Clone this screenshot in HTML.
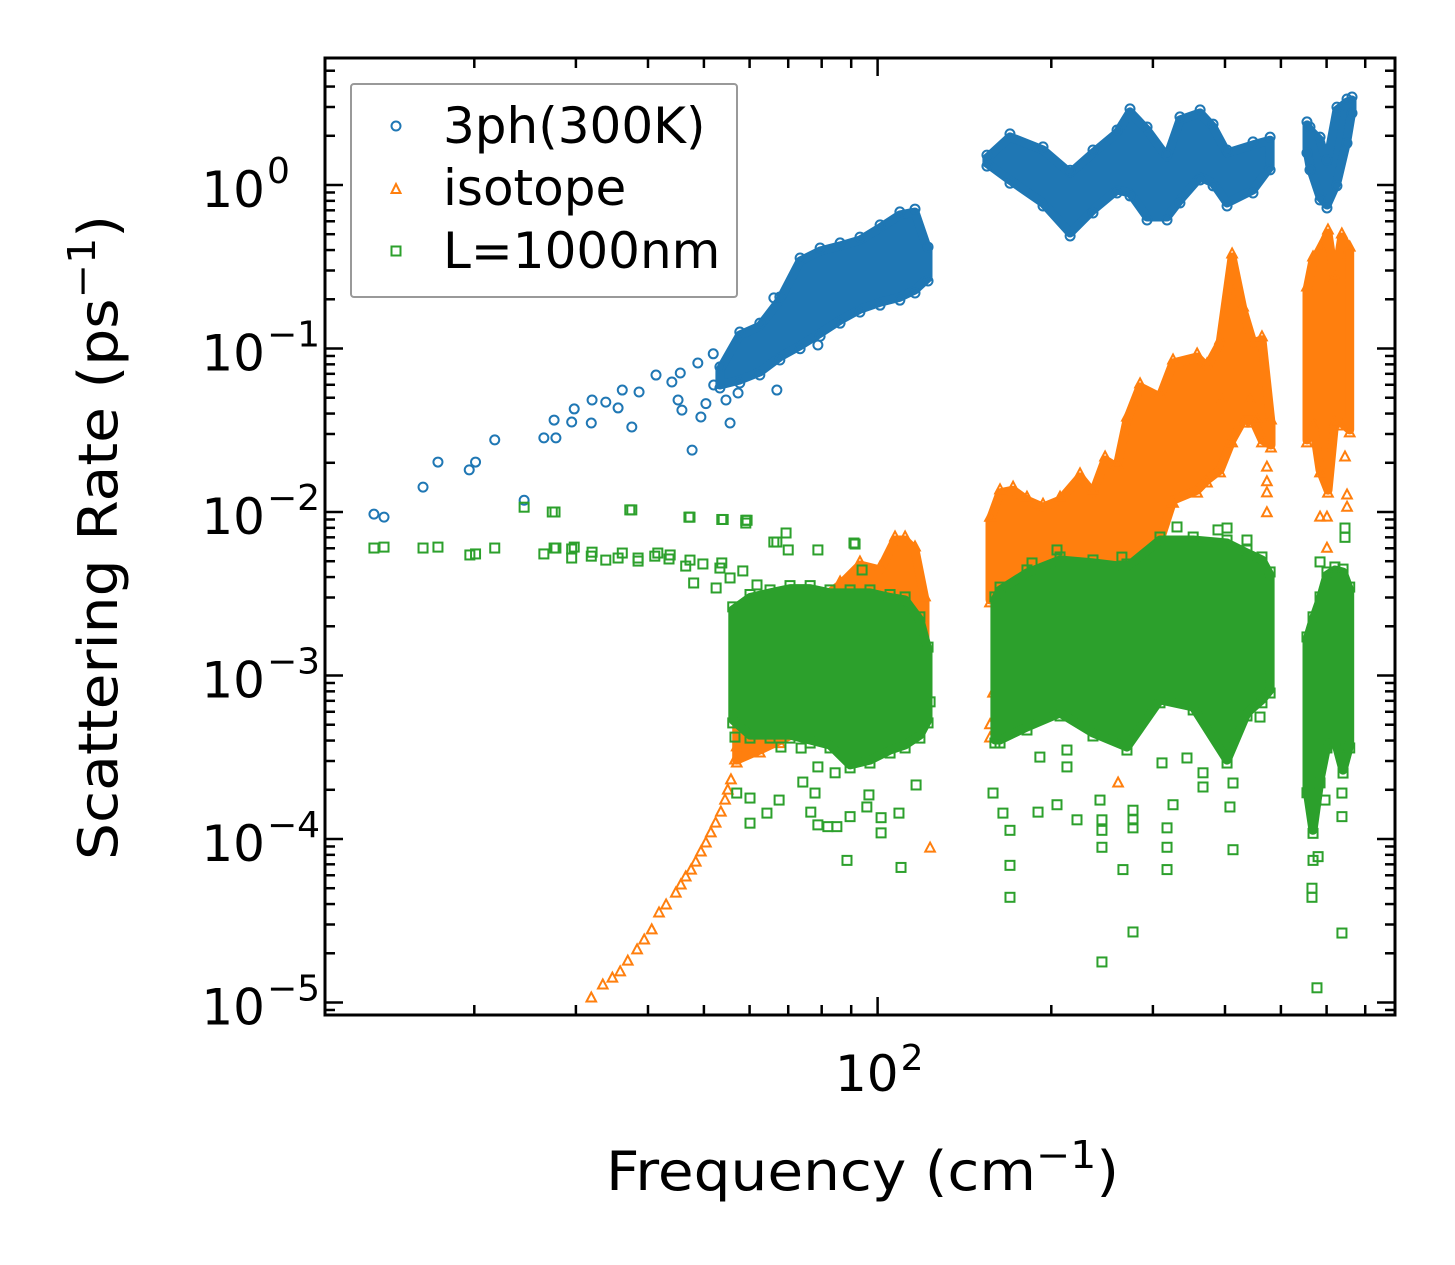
<!DOCTYPE html>
<html><head><meta charset="utf-8"><style>
html,body{margin:0;padding:0;background:#fff;}
svg{display:block;font-family:"DejaVu Sans","Liberation Sans",sans-serif;}
</style></head><body>
<svg id="chart" width="1455" height="1265" viewBox="0 0 1455 1265" xmlns="http://www.w3.org/2000/svg">
<rect x="0" y="0" width="1455" height="1265" fill="#fff"/>
<g id="plot"></g>
<g id="axes"></g>
<g>
  <rect x="351" y="84" width="386" height="213" fill="#fff" fill-opacity="0.8" stroke="#999" stroke-width="2" rx="3"/>
  <circle cx="396" cy="126" r="4.5" fill="none" stroke="#1f77b4" stroke-width="2"/>
  <text x="443" y="143" font-size="50">3ph(300K)</text>
  <polygon points="396,184 391.5,193 400.5,193" fill="none" stroke="#ff7f0e" stroke-width="2"/>
  <text x="443" y="205" font-size="50">isotope</text>
  <rect x="391.5" y="246.5" width="9" height="9" fill="none" stroke="#2ca02c" stroke-width="2"/>
  <text x="443" y="268" font-size="50">L=1000nm</text>
</g>
<text x="606" y="1190" font-size="54" textLength="513" lengthAdjust="spacingAndGlyphs">Frequency (cm<tspan font-size="38" dy="-22">−1</tspan><tspan dy="22">)</tspan></text>
<text transform="translate(117,860) rotate(-90)" font-size="54" textLength="645" lengthAdjust="spacingAndGlyphs">Scattering Rate (ps<tspan font-size="38" dy="-22">−1</tspan><tspan dy="22">)</tspan></text>
</svg>
<script>
// ---------- data (frequency cm^-1, rate ps^-1) ----------
const blueBandF = [[53.3,57.7,62.5,67.7,73.4,79.5,86.1,93.2,101,109.3,116.1,122.3],
  [154.7,169.6,193.5,215.6,236.2,260,273.8,293.1,317.4,334.2,362.2,381.4,403.3,447.3,478.9],
  [554.8,561.5,584.5,600.9,625.3,651,664.1]];
const blueBandHi = [[0.074,0.121,0.137,0.198,0.343,0.395,0.424,0.46,0.547,0.656,0.683,0.40],
  [1.46,1.97,1.64,1.18,1.57,2.08,2.80,2.17,1.48,2.50,2.76,2.26,1.57,1.76,1.88],
  [2.33,2.17,1.88,1.36,2.87,3.22,3.31]];
const blueBandLo = [[0.0598,0.0642,0.0718,0.0887,0.104,0.124,0.149,0.174,0.192,0.206,0.228,0.270],
  [1.36,1.07,0.776,0.509,0.703,0.932,0.894,0.637,0.637,0.81,1.12,1.03,0.776,0.932,1.29],
  [1.64,1.29,0.845,0.755,1.03,1.88,2.87]];
const bluePtF = [13.4,13.95,16.3,17.3,19.6,20.1,21.7,24.4,26.4,27.7,27.5,29.5,29.8,32.0,31.9,33.8,35.5,36.1,38.6,37.5,41.3,45.5,44.0,47.7,48.8,51.9,49.4,55.5,57.3,66.9,66.1,78.8,45.1,50.4,54.6,45.8,52.0];
const bluePtY = [0.0097,0.0093,0.0142,0.0202,0.0181,0.0202,0.0276,0.0118,0.0284,0.0284,0.0365,0.0355,0.0427,0.0484,0.035,0.047,0.0433,0.0557,0.0542,0.0331,0.0688,0.0708,0.0624,0.0239,0.0815,0.0928,0.0381,0.035,0.0534,0.0557,0.204,0.105,0.0484,0.046,0.0484,0.042,0.0598];

const orangeBandF = [[57.0,62.5,67.7,73.4,79.5,86.1,93.2,101,107.2,111.6,116.1,120.8],
  [156.6,163,171.7,181.5,193.5,207.1,224.3,236.2,247.9,260,270.5,285,308.6,325.1,357.9,372.3,392.2,411.5,429.9,447.3,463.6,480.6],
  [554.8,568.4,584.5,603.3,620.2,637.6,658.0]];
const orangeBandHi = [[7.1e-4,8.2e-4,1.24e-3,1.65e-3,2.9e-3,3.58e-3,4.74e-3,4.42e-3,6.74e-3,6.74e-3,5.86e-3,2.9e-3],
  [8.9e-3,1.31e-2,1.36e-2,1.18e-2,1.07e-2,1.18e-2,1.64e-2,1.31e-2,2.08e-2,1.88e-2,3.65e-2,5.82e-2,5.05e-2,8.15e-2,8.87e-2,7.7e-2,0.108,0.363,0.172,0.108,0.113,3.5e-2],
  [0.228,0.348,0.40,0.509,0.262,0.481,0.40]];
const orangeBandLo = [[3.04e-4,3.5e-4,4.0e-4,4.6e-4,5.3e-4,5.3e-4,5.3e-4,5.3e-4,6.2e-4,5.7e-4,5.7e-4,6.2e-4],
  [2.9e-3,3.3e-3,3.84e-3,3.84e-3,3.84e-3,3.84e-3,3.84e-3,3.84e-3,3.84e-3,3.84e-3,3.84e-3,3.84e-3,6.7e-3,1.18e-2,1.36e-2,1.57e-2,1.81e-2,2.76e-2,3.65e-2,3.65e-2,2.76e-2,2.57e-2],
  [2.76e-2,3.5e-2,1.81e-2,1.36e-2,3.65e-2,3.5e-2,3.18e-2]];
const orangePtF = [31.9,33.4,34.7,35.8,36.9,38.3,39.4,40.6,41.8,43.0,44.7,45.6,46.5,47.5,48.4,49.4,50.4,51.4,52.4,53.5,54.4,55.0,55.7,56.6,57.0,123.3,472.8,472.8,472.8,472.8,261.1,156.6,156.6,158.5,584.5,600.9,600.9,651,651,395.4,442,454.6,645.7];
const orangePtY = [1.065e-5,1.28e-5,1.41e-5,1.54e-5,1.79e-5,2.1e-5,2.41e-5,2.78e-5,3.53e-5,3.95e-5,4.67e-5,5.23e-5,5.86e-5,6.45e-5,7.22e-5,8.32e-5,9.45e-5,1.09e-4,1.25e-4,1.46e-4,1.73e-4,1.99e-4,2.3e-4,3.04e-4,3.66e-4,8.8e-5,1.53e-2,1.31e-2,9.9e-3,1.88e-2,2.2e-4,5.0e-4,4.15e-4,7.8e-4,9.3e-3,9.3e-3,6.0e-3,1.27e-2,1.07e-2,4.84e-2,4.84e-2,3.65e-2,2.17e-2];

const greenBandF = [[56.1,60.1,65.1,70.5,76.4,82.7,89.6,97.0,105.1,111.6,118.4,122.3],
  [159.7,163,181.5,207.1,236.2,270.5,308.6,352.3,403.3,436.7,463.6,478.9],
  [554.8,568.4,584.5,600.9,620.2,640.7,658]];
const greenBandHi = [[2.52e-3,3.0e-3,3.2e-3,3.4e-3,3.4e-3,3.2e-3,3.2e-3,3.2e-3,3.0e-3,2.9e-3,2.19e-3,1.43e-3],
  [2.9e-3,3.33e-3,4.24e-3,5.09e-3,4.88e-3,4.61e-3,6.74e-3,6.74e-3,6.46e-3,5.61e-3,5.09e-3,4.12e-3],
  [1.65e-3,2.19e-3,2.9e-3,4.12e-3,4.42e-3,4.29e-3,3.33e-3]];
const greenBandLo = [[5.35e-4,4.32e-4,4.32e-4,4.32e-4,4.03e-4,3.76e-4,2.84e-4,3.04e-4,3.5e-4,3.76e-4,4.32e-4,5.35e-4],
  [4.03e-4,4.03e-4,4.84e-4,5.9e-4,4.45e-4,3.65e-4,7.1e-4,6.42e-4,3.04e-4,5.9e-4,7.1e-4,8.15e-4],
  [2.0e-4,1.13e-4,2.3e-4,3.76e-4,4.03e-4,2.64e-4,3.76e-4]];
const greenPtF = [13.4,13.95,16.3,17.3,19.65,20.1,21.7,24.4,26.4,27.6,27.7,29.5,29.8,32.0,33.8,36.1,37.5,38.45,41.6,43.7,47.3,47.3,53.7,59.1,59.1,53.7,66.1,69.4,70.0,78.8,91.0,94.0,
  27.3,37.2,47.1,54.0,59.4,66.9,91.4,27.5,29.5,31.9,35.5,38.45,41.1,43.5,46.5,49.8,53.3,55.5,52.5,48.0,58.4,61.8,
  56.6,60.1,57.0,64.3,67.5,60.1,68.0,73.7,74.2,77.9,76.6,78.8,82.0,85.0,89.6,96.6,95.8,101.4,101.4,108.9,88.5,109.8,116.6,123.3,78.8,84.4,
  158.5,164.9,169.6,169.6,169.6,189.7,204.6,221.6,212.9,242.9,244.8,244.8,244.8,244.8,277.1,277.1,277.1,266.2,277.1,317.4,317.4,317.4,325.1,311.1,343.7,366.4,366.4,413.0,408.0,413.0,460,475.0,191.1,212.9,
  185.2,204.6,265.1,330.3,403.3,436.7,389.0,
  577.4,566.0,566.0,568.4,580,637.9,637.9,596.2,645.7,645.7,584.5,637.9,651];
const greenPtY = [6.02e-3,6.1e-3,6.02e-3,6.1e-3,5.46e-3,5.54e-3,6.02e-3,1.07e-2,5.54e-3,1.0e-2,6.02e-3,5.23e-3,6.1e-3,5.68e-3,5.08e-3,5.61e-3,1.03e-2,5.23e-3,5.61e-3,5.46e-3,9.3e-3,5.08e-3,9.0e-3,8.9e-3,8.56e-3,4.88e-3,6.55e-3,7.44e-3,5.86e-3,5.86e-3,6.46e-3,4.42e-3,
  1.0e-2,1.03e-2,9.3e-3,9.0e-3,8.9e-3,6.55e-3,6.37e-3,6.02e-3,5.94e-3,5.37e-3,5.23e-3,5.01e-3,5.37e-3,5.16e-3,4.67e-3,4.81e-3,4.54e-3,3.95e-3,3.43e-3,3.68e-3,4.36e-3,3.58e-3,
  4.2e-4,1.78e-4,1.91e-4,1.44e-4,1.73e-4,1.25e-4,3.65e-4,3.6e-4,2.23e-4,1.91e-4,1.46e-4,1.22e-4,1.19e-4,1.19e-4,1.37e-4,1.86e-4,1.57e-4,1.35e-4,1.09e-4,1.44e-4,7.4e-5,6.7e-5,2.14e-4,6.9e-4,2.76e-4,2.54e-4,
  1.91e-4,1.44e-4,1.13e-4,6.9e-5,4.4e-5,1.46e-4,1.62e-4,1.31e-4,3.5e-4,1.73e-4,1.31e-4,1.13e-4,8.9e-5,1.77e-5,1.5e-4,1.31e-4,1.17e-4,6.5e-5,2.7e-5,1.17e-4,8.9e-5,6.5e-5,1.62e-4,2.92e-4,3.13e-4,2.54e-4,2.08e-4,2.2e-4,1.57e-4,8.6e-5,5.57e-4,9.8e-4,3.17e-4,2.76e-4,
  4.88e-3,5.86e-3,5.3e-3,8.1e-3,7.98e-3,6.74e-3,7.77e-3,
  1.23e-5,5.0e-5,4.4e-5,7.4e-5,7.8e-5,2.66e-5,1.37e-4,1.73e-4,7.0e-3,7.98e-3,4.95e-3,1.91e-4,3.65e-4];

const yTickExp = [0,-1,-2,-3,-4,-5];
const xTickExp = [2];

// ---------- axis functions ----------
const AX = {left:325, right:1395, top:58, bottom:1015};
function xs(f){ return 877.6 + 577*Math.log10(f/100); }
function ys(r){ return 185 - 163.5*Math.log10(r); }

const NS = 'http://www.w3.org/2000/svg';
function mk(tag, attrs, parent){
  const e = document.createElementNS(NS, tag);
  for (const k in attrs) e.setAttribute(k, attrs[k]);
  parent.appendChild(e);
  return e;
}
const plot = document.getElementById('plot');
const axes = document.getElementById('axes');

const defs = mk('defs', {}, plot);
const cp = mk('clipPath', {id:'clip'}, defs);
mk('rect', {x:AX.left, y:AX.top, width:AX.right-AX.left, height:AX.bottom-AX.top}, cp);
const clipG = mk('g', {'clip-path':'url(#clip)'}, plot);

function marker(kind, x, y, color, parent){
  let e;
  if (kind==='circle') e = mk('circle', {cx:x, cy:y, r:4.5, fill:'none', stroke:color, 'stroke-width':2}, parent);
  else if (kind==='tri') e = mk('polygon', {points:`${x},${y-5.5} ${x-4.8},${y+3.5} ${x+4.8},${y+3.5}`, fill:'none', stroke:color, 'stroke-width':2}, parent);
  else e = mk('rect', {x:x-4.5, y:y-4.5, width:9, height:9, fill:'none', stroke:color, 'stroke-width':2}, parent);
  return e;
}

function drawSeries(name, kind, color, bandF, bandHi, bandLo, ptF, ptY){
  const g = mk('g', {}, clipG);
  
  
  for (let s=0; s<bandF.length; s++){
    const F = bandF[s], H = bandHi[s], L = bandLo[s];
    const pts = [];
    for (let i=0;i<F.length;i++) pts.push(xs(F[i]).toFixed(1)+','+ys(H[i]).toFixed(1));
    for (let i=F.length-1;i>=0;i--) pts.push(xs(F[i]).toFixed(1)+','+ys(L[i]).toFixed(1));
    const poly = mk('polygon', {points:pts.join(' '), fill:color, stroke:color, 'stroke-width':9, 'stroke-linejoin':'round'}, g);
    
    
    for (let i=0;i<F.length;i++){
      const m1 = marker(kind, xs(F[i]), ys(H[i]) - 3, color, g);
      
      
      const m2 = marker(kind, xs(F[i]), ys(L[i]) + 3, color, g);
      
      
    }
  }
  for (let i=0;i<ptF.length;i++){
    const m = marker(kind, xs(ptF[i]), ys(ptY[i]), color, g);
    
    
  }
}
drawSeries('3ph', 'circle', '#1f77b4', blueBandF, blueBandHi, blueBandLo, bluePtF, bluePtY);
drawSeries('isotope', 'tri', '#ff7f0e', orangeBandF, orangeBandHi, orangeBandLo, orangePtF, orangePtY);
drawSeries('boundary', 'square', '#2ca02c', greenBandF, greenBandHi, greenBandLo, greenPtF, greenPtY);

// ---------- axes ----------
const frame = mk('rect', {x:AX.left, y:AX.top, width:AX.right-AX.left, height:AX.bottom-AX.top, fill:'none', stroke:'#000', 'stroke-width':3}, axes);



function tick(x1,y1,x2,y2,name){
  const t = mk('line', {x1:x1,y1:y1,x2:x2,y2:y2, stroke:'#000','stroke-width':2.5}, axes);
  
  
}
for (let e=-6; e<=1; e++){
  for (let m=1; m<=9; m++){
    const y = ys(m*Math.pow(10,e));
    if (y < AX.top || y > AX.bottom) continue;
    const len = m===1 ? 18 : 10;
    tick(AX.left, y, AX.left+len, y, m===1?'y-major-tick':'y-minor-tick');
    tick(AX.right, y, AX.right-len, y, m===1?'y-major-tick':'y-minor-tick');
  }
}
for (const e of yTickExp){
  const y = ys(Math.pow(10,e));
  const t = mk('text', {x:265, y:y+22, 'font-size':50, 'text-anchor':'end'}, axes);
  t.textContent = '10';
  
  
  const s = mk('text', {x:267, y:y-2, 'font-size':36, 'text-anchor':'start'}, axes);
  s.textContent = e===0 ? '0' : '\u2212' + Math.abs(e);
  
  
}
for (let e=1; e<=2; e++){
  for (let m=1; m<=9; m++){
    const f = m*Math.pow(10,e);
    const x = xs(f);
    if (x < AX.left || x > AX.right) continue;
    const len = m===1 ? 18 : 10;
    tick(x, AX.bottom, x, AX.bottom-len, m===1?'x-major-tick':'x-minor-tick');
    tick(x, AX.top, x, AX.top+len, m===1?'x-major-tick':'x-minor-tick');
  }
}
for (const e of xTickExp){
  const x = xs(Math.pow(10,e));
  const t = mk('text', {x:x+21, y:1091, 'font-size':50, 'text-anchor':'end'}, axes);
  t.textContent = '10';
  
  
  const s = mk('text', {x:x+23, y:1070, 'font-size':36}, axes);
  s.textContent = String(e);
  
  
}
</script>
</body></html>
